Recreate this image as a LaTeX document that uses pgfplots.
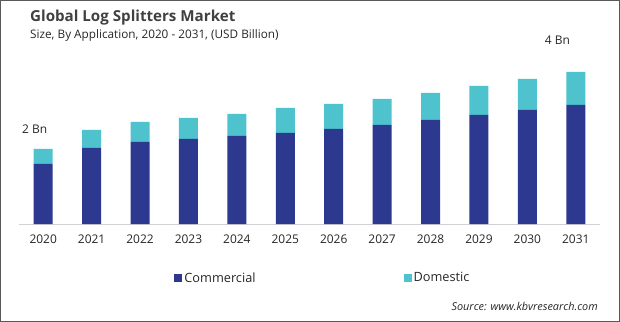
\documentclass[border=0pt]{standalone}
\usepackage{pgfplots}
\pgfplotsset{compat=1.18}
\usepackage{pgfplotstable}
\usepackage{fontspec}
\setmainfont{Open Sans}
\definecolor{comC}{RGB}{44,57,142}
\definecolor{domC}{RGB}{78,195,206}
\definecolor{txtC}{RGB}{38,38,38}
\definecolor{titC}{RGB}{64,64,64}
\pgfplotstableread{
x c d
0 1.500 0.375
1 1.900 0.450
2 2.050 0.500
3 2.125 0.525
4 2.200 0.550
5 2.275 0.625
6 2.375 0.625
7 2.475 0.650
8 2.600 0.675
9 2.725 0.725
10 2.850 0.775
11 2.975 0.825
}\data
\begin{document}
\begin{tikzpicture}
\path[use as bounding box] (0bp,0bp) rectangle (620bp,322bp);
\draw[gray!70!black, line width=1bp] (0.5bp,0.5bp) rectangle (619.5bp,321.5bp);
\node[anchor=base west, inner sep=0, font=\bfseries\fontsize{15.2}{18}\selectfont, text=titC] at (30bp,300bp) {Global Log Splitters Market};
\node[anchor=base west, inner sep=0, font=\fontsize{11.8}{14}\selectfont, text=txtC] at (30bp,283bp) {Size, By Application, 2020 - 2031, (USD Billion)};
\node[anchor=base east, inner sep=0, font=\itshape\fontsize{10.9}{12}\selectfont, text=txtC] at (598bp,12bp) {Source: www.kbvresearch.com};
\begin{axis}[
  at={(19bp,98bp)}, anchor=south west, scale only axis,
  width=581bp, height=194bp,
  xmin=-0.5, xmax=11.5, ymin=0, ymax=4.85,
  ybar stacked, bar width=19bp,
  axis y line=none, axis x line*=bottom,
  x axis line style={draw=gray!35, -},
  xtick={0,...,11},
  xticklabels={2020,2021,2022,2023,2024,2025,2026,2027,2028,2029,2030,2031},
  major tick length=0pt,
  xticklabel style={font=\fontsize{12}{14}\selectfont, text=txtC, yshift=-7bp},
  legend columns=2,
  legend style={draw=none, fill=none, at={(0.262,-0.278)}, anchor=west,
    font=\fontsize{12.8}{15}\selectfont, text=txtC,
    /tikz/every even column/.append style={column sep=146bp}},
  legend image code/.code={\path[#1] (0bp,-4bp) rectangle (8bp,4bp);},
  clip=false,
]
\addplot[fill=comC, draw=none] table[x=x, y=c] {\data};
\addplot[fill=domC, draw=none] table[x=x, y=d] {\data};
\legend{Commercial, Domestic}
\node[font=\fontsize{12}{14}\selectfont, text=txtC] at (axis cs:-0.175,2.375) {2 Bn};
\node[font=\fontsize{12}{14}\selectfont, text=txtC] at (axis cs:10.62,4.6) {4 Bn};
\end{axis}
\end{tikzpicture}
\end{document}
